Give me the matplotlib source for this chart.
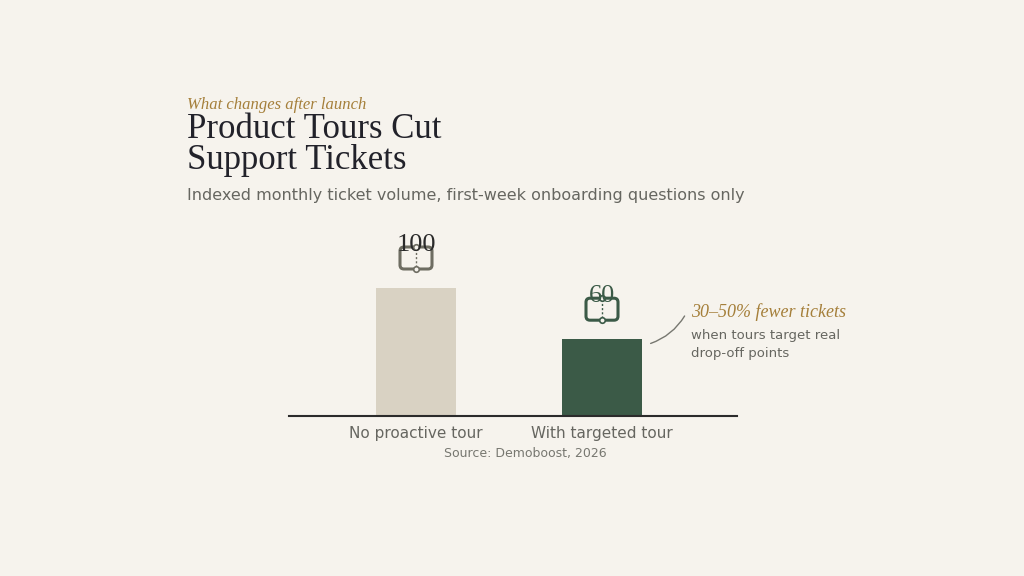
import matplotlib.pyplot as plt
from matplotlib.patches import FancyBboxPatch
from matplotlib.transforms import ScaledTranslation

categories = ['No proactive tour', 'With targeted tour']
values = [100, 60]
bar_colors = ['#d9d2c3', '#3b5a47']
icon_colors = ['#6e6d62', '#3b5a47']

BG = '#f6f3ed'
SERIF = ['Liberation Serif', 'DejaVu Serif']

fig = plt.figure(figsize=(10.24, 5.76), dpi=100, facecolor=BG)
W, H = 1024, 576
ax = fig.add_axes([289 / W, 1 - 416 / H, 448 / W, 200 / H])
ax.set_facecolor(BG)
ax.set_xlim(-127 / 186, 321 / 186)
ax.set_ylim(0, 200 / 1.28)
x = list(range(len(categories)))
ax.bar(x, values, width=80 / 186, color=bar_colors)
for s in ['top', 'right', 'left']:
    ax.spines[s].set_visible(False)
ax.spines['bottom'].set_color('#2b2b2b')
ax.spines['bottom'].set_linewidth(1.5)
ax.set_yticks([])
ax.set_xticks(x)
ax.set_xticklabels(categories, fontsize=11, color='#666660')
ax.tick_params(axis='x', length=0, pad=7)

for xi, v, c in zip(x, values, icon_colors):
    ax.annotate(str(v), (xi, v), xytext=(0, 43), textcoords='offset pixels',
                ha='center', va='center', fontsize=19, family=SERIF, color=c if xi else '#2a2a2a')
    tr = fig.dpi_scale_trans + ScaledTranslation(xi, v + 30 / 1.28, ax.transData)
    ax.add_patch(FancyBboxPatch((-0.14, -0.09), 0.28, 0.18, boxstyle='round,pad=0.02,rounding_size=0.04',
                                transform=tr, fill=False, ec=c, lw=2.2, clip_on=False))
    ax.plot([0, 0], [-0.09, 0.09], transform=tr, ls=(0, (1.5, 1.5)), color=c, lw=1, clip_on=False)
    ax.plot([0, 0], [-0.11, 0.11], 'o', transform=tr, ms=4, mfc=BG, mec=c, mew=1.2, clip_on=False)

ax.annotate('', xy=(1 + 46 / 186, 60 - 4), xytext=(1 + 84 / 186, 60 + 20),
            arrowprops=dict(arrowstyle='-', color='#777770', lw=1, connectionstyle='arc3,rad=-0.2'),
            annotation_clip=False)

fig.text(691 / W, 1 - 312 / H, '30–50% fewer tickets', family=SERIF, style='italic',
         fontsize=13, color='#a57f3a', va='center')
fig.text(691 / W, 1 - 345 / H, 'when tours target real\ndrop-off points', fontsize=9.5,
         color='#666660', va='center', linespacing=1.5)

fig.text(187 / W, 1 - 105 / H, 'What changes after launch', family=SERIF, style='italic',
         fontsize=12, color='#a57f3a', va='center')
fig.text(187 / W, 1 - 145 / H, 'Product Tours Cut\nSupport Tickets', family=SERIF,
         fontsize=25, color='#22222a', va='center', linespacing=0.95)
fig.text(187 / W, 1 - 195 / H, 'Indexed monthly ticket volume, first-week onboarding questions only',
         fontsize=11.5, color='#666660', va='center')
fig.text(525 / W, 1 - 453 / H, 'Source: Demoboost, 2026', fontsize=9, color='#777770',
         ha='center', va='center')

fig.savefig('out.png', dpi=100, facecolor=BG)
